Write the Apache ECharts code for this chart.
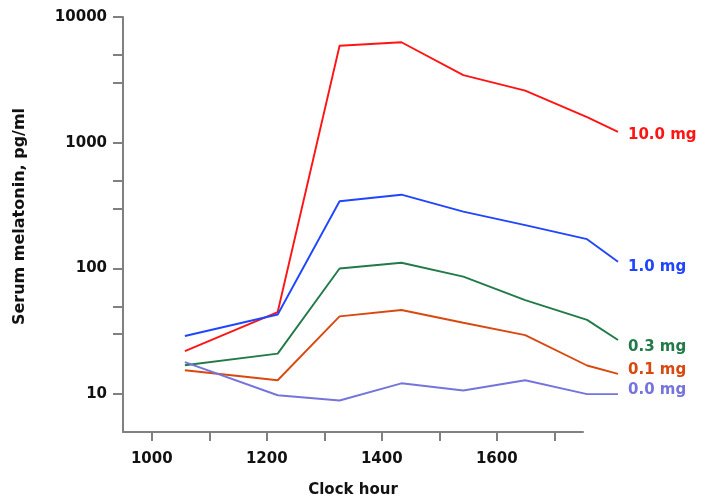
<!DOCTYPE html>
<html>
<head>
<meta charset="utf-8">
<title>Serum melatonin by dose</title>
<script src="https://cdn.jsdelivr.net/npm/echarts@6/dist/echarts.min.js"></script>
<style>
  html, body { margin: 0; padding: 0; background: #fff; }
  #chart { width: 704px; height: 500px; }
</style>
</head>
<body>
<div id="chart"></div>
<script>
// clock hours of the samples
const hours = [1050, 1200, 1300, 1400, 1500, 1600, 1700, 1750]

// serum melatonin, pg/ml, per dose
const dose10 = [22, 45, 5900, 6300, 3450, 2600, 1600, 1220]
const dose1 = [29, 43, 342, 386, 283, 221, 171, 113]
const dose03 = [17, 21, 100, 111, 86, 56, 39, 27]
const dose01 = [15.5, 12.9, 41.6, 46.7, 37, 29.5, 16.9, 14.5]
const dose0 = [18, 9.8, 8.9, 12.2, 10.7, 12.9, 10, 10]

const doseNames = ['10.0 mg', '1.0 mg', '0.3 mg', '0.1 mg', '0.0 mg']

// axis ticks
const xTicks = [1000, 1100, 1200, 1300, 1400, 1500, 1600, 1700]
const xLabels = [1000, 1200, 1400, 1600]
const yTicks = [10, 30, 50, 100, 300, 500, 1000, 3000, 5000, 10000]
const yLabels = [10, 100, 1000, 10000]

const font = 'DejaVu Sans'
const axisGrey = '#808080'

const chart = echarts.init(document.getElementById('chart'))

const plainNumber = v => String(Math.round(v))

const makeSeries = (name, values, color, offsetY) => ({
  name: name,
  type: 'line',
  xAxisIndex: 1,
  yAxisIndex: 1,
  data: hours.map((h, i) => [h, values[i]]),
  showSymbol: false,
  lineStyle: { color: color, width: 1.9 },
  itemStyle: { color: color },
  endLabel: {
    show: true,
    formatter: '{a}',
    color: color,
    fontFamily: font,
    fontWeight: 'bold',
    fontSize: 15,
    distance: 10,
    offset: [0, offsetY]
  },
  silent: true
})

const option = {
  backgroundColor: '#fff',
  animation: false,
  grid: [
    { left: 123, top: 17, width: 460, height: 415, outerBoundsMode: 'none' },
    // data is drawn on a slightly wider grid, as in the original figure
    { left: 123, top: 17, width: 495, height: 415, outerBoundsMode: 'none' }
  ],
  xAxis: [
    {
      type: 'value',
      gridIndex: 0,
      min: 950,
      max: 1750,
      name: 'Clock hour',
      nameLocation: 'middle',
      nameGap: 51,
      nameTextStyle: { fontFamily: font, fontWeight: 'bold', fontSize: 15, color: '#111' },
      axisLine: { show: true, lineStyle: { color: axisGrey, width: 2 } },
      axisTick: { show: true, length: 9, lineStyle: { color: axisGrey, width: 2 }, customValues: xTicks },
      axisLabel: { customValues: xLabels, formatter: plainNumber, margin: 20, fontFamily: font, fontWeight: 'bold', fontSize: 15, color: '#111' },
      splitLine: { show: false }
    },
    { type: 'value', gridIndex: 1, min: 950, max: 1750, show: false }
  ],
  yAxis: [
    {
      type: 'log',
      gridIndex: 0,
      min: 5,
      max: 10000,
      name: 'Serum melatonin, pg/ml',
      nameLocation: 'middle',
      nameGap: 95,
      nameTextStyle: { fontFamily: font, fontWeight: 'bold', fontSize: 16, color: '#111', padding: [0, 0, 0, 16] },
      axisLine: { show: true, lineStyle: { color: axisGrey, width: 2 } },
      axisTick: { show: true, length: 10, lineStyle: { color: axisGrey, width: 2 }, customValues: yTicks },
      axisLabel: { customValues: yLabels, formatter: plainNumber, margin: 16, fontFamily: font, fontWeight: 'bold', fontSize: 15, color: '#111' },
      splitLine: { show: false }
    },
    { type: 'log', gridIndex: 1, min: 5, max: 10000, show: false }
  ],
  series: [
    makeSeries(doseNames[0], dose10, '#ff1414', 3),
    makeSeries(doseNames[1], dose1, '#1f45ff', 5),
    makeSeries(doseNames[2], dose03, '#217a48', 7),
    makeSeries(doseNames[3], dose01, '#d9480f', -4),
    makeSeries(doseNames[4], dose0, '#7474dc', -4)
  ]
}

chart.setOption(option)
</script>
</body>
</html>
